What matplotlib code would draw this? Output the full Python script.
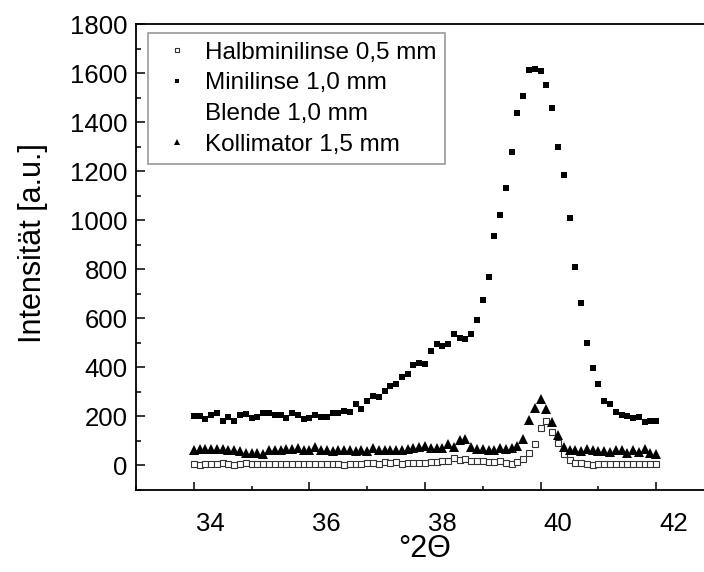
import numpy as np
import matplotlib
matplotlib.use("Agg")
import matplotlib.pyplot as plt
from matplotlib.ticker import MultipleLocator, FixedLocator
from matplotlib.transforms import ScaledTranslation

plt.rcParams['font.family'] = ['Liberation Sans', 'DejaVu Sans']

# 2Theta grid, 0.1 deg steps from 34 to 42
winkel = np.linspace(34, 42, 81)

halbminilinse = [6, 2, 6, 6, 6, 10, 4, 2, 6, 11,
                 6, 4, 4, 6, 4, 4, 6, 6, 8, 8,
                 6, 8, 8, 6, 8, 6, 2, 6, 8, 6,
                 10, 10, 8, 14, 12, 14, 7, 11, 11, 11,
                 11, 14, 15, 20, 18, 31, 22, 27, 18, 18,
                 18, 15, 15, 20, 11, 7, 15, 27, 52, 86,
                 152, 181, 137, 91, 45, 22, 11, 11, 4, 2,
                 8, 4, 4, 8, 8, 4, 4, 6, 4, 4, 6]

minilinse = [201, 201, 188, 204, 215, 181, 198, 181, 204, 208,
             194, 198, 215, 212, 204, 204, 194, 215, 204, 188,
             194, 204, 198, 198, 212, 215, 221, 217, 249, 231,
             262, 285, 280, 305, 326, 334, 360, 372, 409, 416,
             413, 466, 497, 489, 497, 538, 521, 514, 538, 592,
             673, 770, 934, 1020, 1132, 1279, 1438, 1506, 1614, 1617,
             1607, 1552, 1457, 1299, 1185, 1010, 808, 662, 500, 398,
             331, 264, 251, 217, 205, 201, 193, 198, 177, 183, 183]

kollimator = [62, 68, 68, 68, 68, 68, 65, 65, 58, 52,
              52, 52, 45, 62, 65, 65, 68, 68, 72, 65,
              65, 76, 62, 62, 58, 62, 65, 65, 58, 65,
              58, 72, 65, 65, 65, 65, 65, 68, 72, 76,
              79, 72, 72, 72, 86, 76, 103, 109, 76, 68,
              68, 62, 62, 72, 68, 72, 79, 109, 185, 236,
              269, 231, 177, 125, 76, 62, 65, 58, 68, 65,
              58, 58, 54, 65, 62, 52, 65, 54, 68, 52, 45]

namen = ["Halbminilinse 0,5 mm", "Minilinse 1,0 mm", "Blende 1,0 mm", "Kollimator 1,5 mm"]
y_ticks = [0, 200, 400, 600, 800, 1000, 1200, 1400, 1600, 1800]

fig = plt.figure(figsize=(7.04, 5.72), dpi=100)
ax = fig.add_axes([136 / 704, 82 / 572, 578 / 704, 466 / 572])

ax.plot(winkel, halbminilinse, ls='none', marker='s', ms=4.7, mfc='white',
        mec='#333333', mew=0.8, label=namen[0])
ax.plot(winkel, minilinse, ls='none', marker='s', ms=5, color='black',
        mew=0, label=namen[1])
ax.plot([], [], ls='none', marker='none', label=namen[2])
ax.plot(winkel, kollimator, ls='none', marker='^', ms=6.5, color='black',
        mew=0, label=namen[3])

ax.set_xlim(33, 43)
ax.set_ylim(-100, 1800)
ax.xaxis.set_major_locator(MultipleLocator(2))
ax.xaxis.set_minor_locator(MultipleLocator(1))
ax.yaxis.set_major_locator(FixedLocator(y_ticks))
ax.yaxis.set_minor_locator(MultipleLocator(100))

ax.tick_params(which='both', direction='in', width=1.1, labelsize=18.5)
ax.tick_params(axis='x', which='major', length=6, pad=16)
ax.tick_params(axis='x', which='minor', length=3)
ax.tick_params(axis='y', which='major', length=6.5, pad=6)
ax.tick_params(axis='y', which='minor', length=3.3)
for s in ax.spines.values():
    s.set_linewidth(1.3)

# x tick labels sit a bit right of their ticks in the original
verschiebung = ScaledTranslation(17 / 100, 0, fig.dpi_scale_trans)
for lab in ax.xaxis.get_majorticklabels():
    lab.set_transform(lab.get_transform() + verschiebung)

ax.set_ylabel("Intensität [a.u.]", fontsize=22)
ax.yaxis.set_label_coords(-0.152, 0.53)
ax.set_xlabel("°2Θ", fontsize=22)
ax.xaxis.set_label_coords(0.5, -0.095)

leg = ax.legend(loc='upper left', bbox_to_anchor=(12 / 578, 1 - 9 / 466),
                borderaxespad=0, fontsize=17.5, frameon=True, fancybox=False,
                edgecolor='#808080', markerscale=0.7, handlelength=1.7,
                handletextpad=0.3, borderpad=0.35, labelspacing=0.36)
leg.get_frame().set_linewidth(1.2)

fig.savefig("out.png", dpi=100)
